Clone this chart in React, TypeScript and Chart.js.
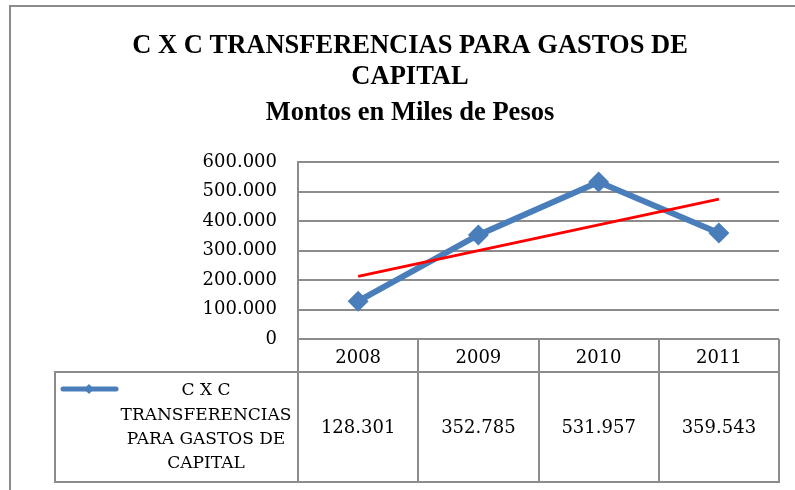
import { useEffect, useRef } from 'react';
import { Chart, registerables } from 'chart.js';

Chart.register(...registerables);

const categories = ['2008', '2009', '2010', '2011'];
const legendLines = ['C X C', 'TRANSFERENCIAS', 'PARA GASTOS DE', 'CAPITAL'];
const seriesValues = [128301, 352785, 531957, 359543];
const trendValues = [212212, 299502, 386792, 474081];
const titleLines = ['C X C TRANSFERENCIAS PARA GASTOS DE', 'CAPITAL', 'Montos en Miles de Pesos'];
const yMin = 0;
const yMax = 600000;
const yStep = 100000;

const BLUE = '#4a7ebb';
const GRAY = '#8c8c8c';
const BODY_FONT = '"DejaVu Serif"';
const TITLE_FONT = '"Liberation Serif"';

function fmt(v: number): string {
  if (v === 0) return '0';
  return String(Math.round(v)).replace(/\B(?=(\d{3})+(?!\d))/g, '.');
}

const framePlugin = {
  id: 'frame',
  beforeDraw(chart: any) {
    const ctx = chart.ctx;
    ctx.save();
    ctx.fillStyle = '#ffffff';
    ctx.fillRect(0, 0, chart.width, chart.height);
    ctx.strokeStyle = GRAY;
    ctx.lineWidth = 2;
    ctx.beginPath();
    ctx.moveTo(10, chart.height);
    ctx.lineTo(10, 6);
    ctx.lineTo(chart.width, 6);
    ctx.stroke();

    // title (centred over the chart, as in the reference)
    ctx.fillStyle = '#000000';
    ctx.font = `bold 26.5px ${TITLE_FONT}`;
    ctx.textAlign = 'center';
    ctx.textBaseline = 'alphabetic';
    const baselines = [53, 83.5, 120];
    titleLines.forEach((t, i) => ctx.fillText(t, 410, baselines[i]));
    ctx.restore();
  },
};

const tablePlugin = {
  id: 'dataTable',
  afterDraw(chart: any) {
    const ctx = chart.ctx;
    const ca = chart.chartArea;
    const xs = chart.scales.x;
    const left = ca.left;
    const right = ca.right;
    const top = ca.bottom;
    const headerBottom = top + 33;
    const tableBottom = top + 143;
    const legendLeft = 55;
    const n = categories.length;
    const w = (right - left) / n;
    ctx.save();
    ctx.strokeStyle = GRAY;
    ctx.lineWidth = 2;
    ctx.beginPath();
    for (let i = 0; i <= n; i++) {
      const x = Math.round(left + i * w);
      ctx.moveTo(x, top);
      ctx.lineTo(x, tableBottom);
    }
    ctx.moveTo(left, top);
    ctx.lineTo(right, top);
    ctx.moveTo(legendLeft - 1, headerBottom);
    ctx.lineTo(right + 1, headerBottom);
    ctx.moveTo(legendLeft - 1, tableBottom);
    ctx.lineTo(right + 1, tableBottom);
    ctx.moveTo(legendLeft, headerBottom);
    ctx.lineTo(legendLeft, tableBottom);
    ctx.stroke();

    ctx.fillStyle = '#000000';
    ctx.font = `18px ${BODY_FONT}`;
    ctx.textAlign = 'center';
    ctx.textBaseline = 'middle';
    const midY = (headerBottom + tableBottom) / 2;
    seriesValues.forEach((v, i) => {
      ctx.fillText(fmt(v), xs.getPixelForValue(i), midY + 1);
    });

    ctx.font = `17px ${BODY_FONT}`;
    const textCx = 206;
    legendLines.forEach((line, i) => {
      ctx.fillText(line, textCx, headerBottom + 19 + i * 24.3);
    });

    // legend sample
    const sy = headerBottom + 17;
    ctx.strokeStyle = BLUE;
    ctx.lineWidth = 5;
    ctx.lineCap = 'round';
    ctx.beginPath();
    ctx.moveTo(63, sy);
    ctx.lineTo(116, sy);
    ctx.stroke();
    ctx.fillStyle = BLUE;
    ctx.beginPath();
    ctx.moveTo(89, sy - 5);
    ctx.lineTo(94, sy);
    ctx.lineTo(89, sy + 5);
    ctx.lineTo(84, sy);
    ctx.closePath();
    ctx.fill();
    ctx.restore();
  },
};

export default function App() {
  const canvasRef = useRef<HTMLCanvasElement | null>(null);

  useEffect(() => {
    if (!canvasRef.current) return;
    const chart = new Chart(canvasRef.current, {
      type: 'line',
      data: {
        labels: categories,
        datasets: [
          {
            label: 'C X C TRANSFERENCIAS PARA GASTOS DE CAPITAL',
            data: seriesValues,
            borderColor: BLUE,
            backgroundColor: BLUE,
            borderWidth: 6,
            pointStyle: 'rectRot',
            pointRadius: 10.5,
            pointBackgroundColor: BLUE,
            pointBorderColor: BLUE,
            pointBorderWidth: 0,
            tension: 0,
            order: 2,
          },
          {
            label: 'Tendencia',
            data: trendValues,
            borderColor: '#ff0000',
            borderWidth: 3,
            pointRadius: 0,
            tension: 0,
            order: 1,
          },
        ],
      },
      options: {
        responsive: false,
        animation: false,
        layout: { padding: { left: 0, right: 16, top: 162, bottom: 8 } },
        plugins: {
          legend: { display: false },
          tooltip: { enabled: false },
          title: { display: false },
        },
        scales: {
          x: {
            type: 'category',
            offset: true,
            grid: { display: false, drawTicks: false },
            border: { display: false },
            ticks: {
              color: '#000000',
              font: { family: BODY_FONT, size: 18 },
              padding: 9,
              maxRotation: 0,
              autoSkip: false,
            },
            afterFit(scale: any) {
              scale.height = 143;
            },
          },
          y: {
            min: yMin,
            max: yMax,
            grid: { color: GRAY, lineWidth: 2, drawTicks: false },
            border: { display: true, color: GRAY, width: 2 },
            ticks: {
              stepSize: yStep,
              color: '#000000',
              font: { family: BODY_FONT, size: 18 },
              padding: 21,
              callback: (v: any) => fmt(Number(v)),
            },
            afterFit(scale: any) {
              scale.width = 298;
            },
          },
        },
      },
      plugins: [framePlugin, tablePlugin],
    });
    return () => chart.destroy();
  }, []);

  return (
    <div style={{ position: 'absolute', left: 0, top: 0, width: 795, height: 490 }}>
      <canvas ref={canvasRef} width={795} height={490} style={{ display: 'block' }} />
    </div>
  );
}
